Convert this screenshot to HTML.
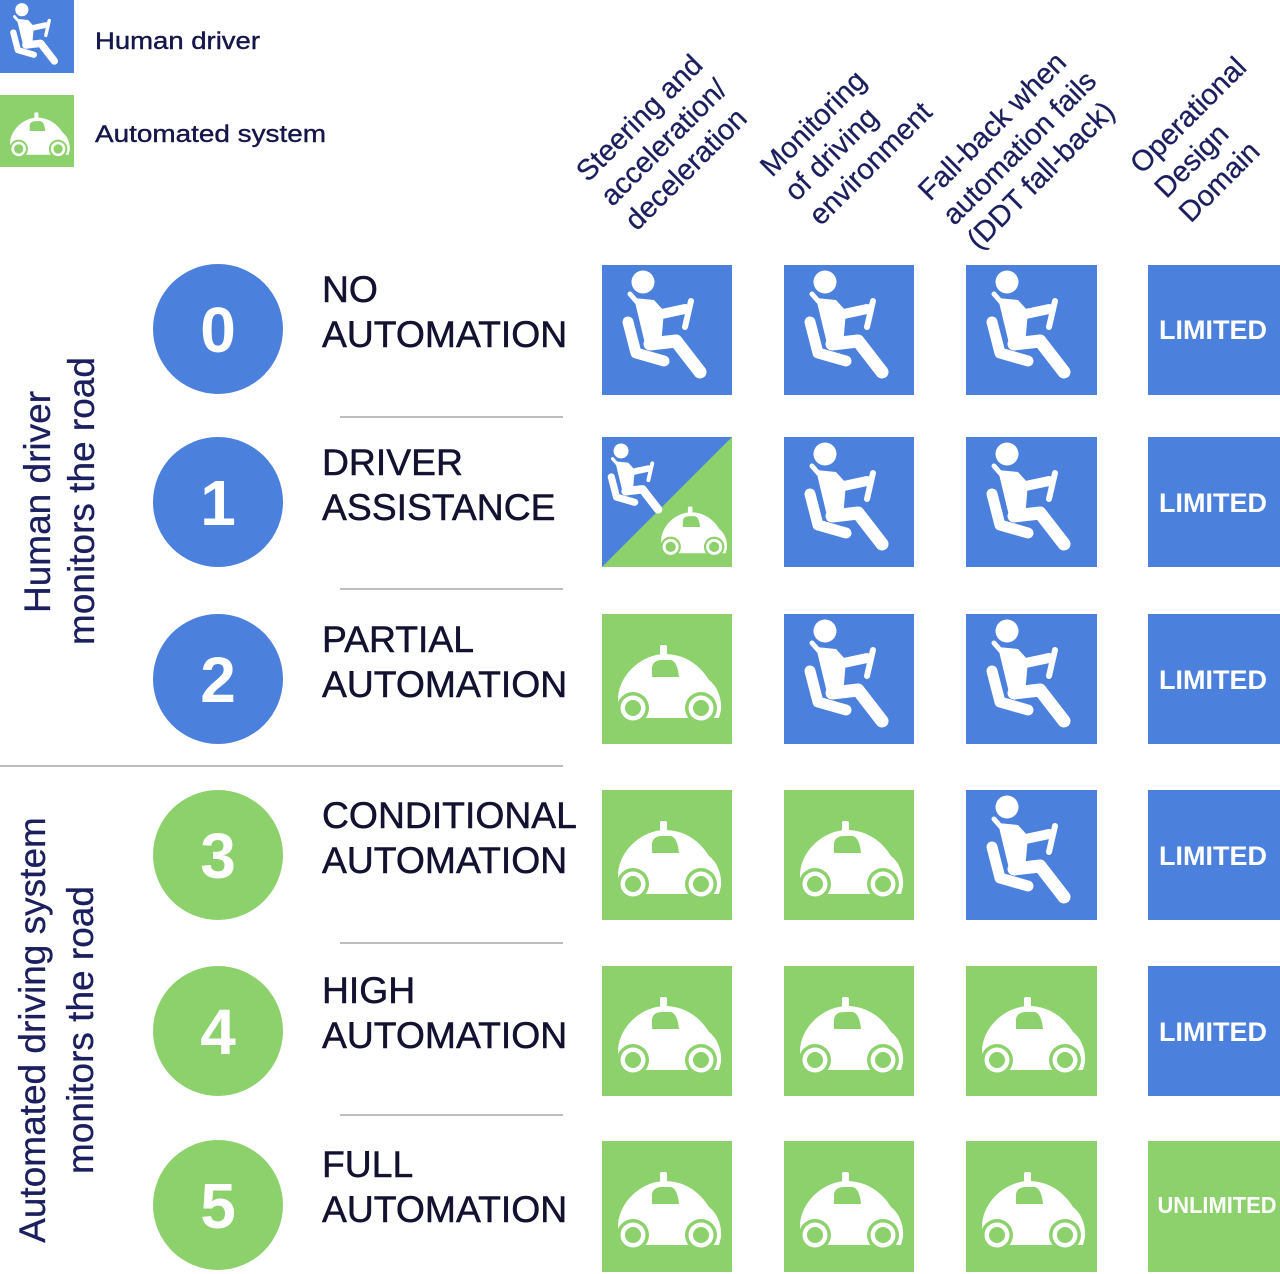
<!DOCTYPE html>
<html>
<head>
<meta charset="utf-8">
<style>
  html,body{margin:0;padding:0;background:#fff;}
  body{width:1280px;height:1274px;overflow:hidden;}
  svg{display:block;}
  text{font-family:"Liberation Sans", Arial, sans-serif;}
</style>
</head>
<body>
<svg width="1280" height="1274" viewBox="0 0 1280 1274" xmlns="http://www.w3.org/2000/svg">
  <defs>
    <g id="drv">
      <circle cx="41" cy="17" r="11.5" fill="#fff"/>
      <line x1="28" y1="29" x2="35" y2="37" stroke="#fff" stroke-width="5" stroke-linecap="round"/>
      <path d="M32,33 L52,35 L62,46 L59,81 L44,83 Z" fill="#fff"/>
      <g fill="none" stroke="#fff" stroke-linecap="round" stroke-linejoin="round">
        <path d="M55,50 L83,44" stroke-width="10"/>
        <path d="M89,36 L83,62" stroke-width="6"/>
        <path d="M26,57 L34,88 L62,96" stroke-width="11"/>
        <path d="M48,79 L74,76 L98,107" stroke-width="13"/>
      </g>
    </g>
    <g id="car">
      <rect x="58" y="31" width="7" height="10" rx="2" fill="#fff"/>
      <path d="M18,104 L16,86 C16,62 38,41 62,40 C82,40 97,50 107,66 C115,72 120,84 119,96 L117,104 Z" fill="#fff"/>
      <path d="M50,63 L50,54 C50,49 54,46 60,46 L68,46 C73,46 76,53 77,63 Z" fill="#8dd16d"/>
      <circle cx="31" cy="94" r="16" fill="#8dd16d"/>
      <circle cx="99" cy="94" r="16" fill="#8dd16d"/>
      <circle cx="31" cy="94" r="12.5" fill="#fff"/>
      <circle cx="99" cy="94" r="12.5" fill="#fff"/>
      <circle cx="31" cy="94" r="8" fill="#8dd16d"/>
      <circle cx="99" cy="94" r="8" fill="#8dd16d"/>
    </g>
  </defs>

  <!-- Legend -->
  <rect x="0" y="0" width="74" height="73" fill="#4b80dc"/>
  <use href="#drv" transform="translate(-1.5,0) scale(0.57)"/>
  <text x="95" y="49" font-size="24" fill="#15164a" stroke="#15164a" stroke-width="0.4" textLength="165" lengthAdjust="spacingAndGlyphs">Human driver</text>
  <rect x="0" y="95" width="74" height="72" fill="#8dd16d"/>
  <use href="#car" transform="translate(0.7,94.4) scale(0.58)"/>
  <text x="95" y="142" font-size="24" fill="#15164a" stroke="#15164a" stroke-width="0.4" textLength="231" lengthAdjust="spacingAndGlyphs">Automated system</text>

  <!-- Column headers -->
  <g font-size="29" fill="#1b1f5e" stroke="#1b1f5e" stroke-width="0.3">
    <text transform="translate(588,183) rotate(-45)"><tspan x="0" y="0">Steering and</tspan><tspan x="0" y="34.5">acceleration/</tspan><tspan x="0" y="69">deceleration</tspan></text>
    <text transform="translate(772,178) rotate(-45)"><tspan x="0" y="0">Monitoring</tspan><tspan x="0" y="34.5">of driving</tspan><tspan x="0" y="69">environment</tspan></text>
    <text transform="translate(930,202) rotate(-45)"><tspan x="0" y="0">Fall-back when</tspan><tspan x="0" y="34.5">automation fails</tspan><tspan x="0" y="69">(DDT fall-back)</tspan></text>
    <text transform="translate(1142,175) rotate(-45)"><tspan x="0" y="0">Operational</tspan><tspan x="0" y="34.5">Design</tspan><tspan x="0" y="69">Domain</tspan></text>
  </g>

  <!-- Side labels -->
  <g font-size="37" fill="#1b1f5e" stroke="#1b1f5e" stroke-width="0.3" text-anchor="middle">
    <text transform="translate(50,502) rotate(-90)">Human driver</text>
    <text transform="translate(94,501) rotate(-90)">monitors the road</text>
    <text transform="translate(45,1030) rotate(-90)">Automated driving system</text>
    <text transform="translate(93,1030) rotate(-90)">monitors the road</text>
  </g>

  <!-- Separators -->
  <g stroke="#bdbdbd" stroke-width="2">
    <line x1="340" y1="417" x2="563" y2="417"/>
    <line x1="340" y1="589" x2="563" y2="589"/>
    <line x1="0" y1="766" x2="563" y2="766"/>
    <line x1="340" y1="943" x2="563" y2="943"/>
    <line x1="340" y1="1115" x2="563" y2="1115"/>
  </g>

  <!-- Circles -->
  <g>
    <circle cx="218" cy="329" r="65" fill="#4b80dc"/>
    <circle cx="218" cy="502" r="65" fill="#4b80dc"/>
    <circle cx="218" cy="679" r="65" fill="#4b80dc"/>
    <circle cx="218" cy="855" r="65" fill="#8dd16d"/>
    <circle cx="218" cy="1031" r="65" fill="#8dd16d"/>
    <circle cx="218" cy="1205" r="65" fill="#8dd16d"/>
  </g>
  <g font-size="64" font-weight="bold" fill="#fff" text-anchor="middle">
    <text x="218" y="352">0</text>
    <text x="218" y="525">1</text>
    <text x="218" y="702">2</text>
    <text x="218" y="878">3</text>
    <text x="218" y="1054">4</text>
    <text x="218" y="1228">5</text>
  </g>

  <!-- Level labels -->
  <g font-size="37.3" fill="#121230" stroke="#121230" stroke-width="0.5">
    <text x="322" y="302">NO</text>
    <text x="322" y="347">AUTOMATION</text>
    <text x="322" y="475">DRIVER</text>
    <text x="322" y="520">ASSISTANCE</text>
    <text x="322" y="652">PARTIAL</text>
    <text x="322" y="697">AUTOMATION</text>
    <text x="322" y="828">CONDITIONAL</text>
    <text x="322" y="873">AUTOMATION</text>
    <text x="322" y="1003">HIGH</text>
    <text x="322" y="1048">AUTOMATION</text>
    <text x="322" y="1177">FULL</text>
    <text x="322" y="1222">AUTOMATION</text>
  </g>

  <!-- Row 0 -->
  <g transform="translate(602,265)"><rect width="130" height="130" fill="#4b80dc"/><use href="#drv"/></g>
  <g transform="translate(784,265)"><rect width="130" height="130" fill="#4b80dc"/><use href="#drv"/></g>
  <g transform="translate(966,265)"><rect width="131" height="130" fill="#4b80dc"/><use href="#drv"/></g>
  <rect x="1148" y="265" width="132" height="130" fill="#4b80dc"/>

  <!-- Row 1 -->
  <g transform="translate(602,437)">
    <rect width="130" height="130" fill="#4b80dc"/>
    <polygon points="0,130 130,0 130,130" fill="#8dd16d"/>
    <use href="#drv" transform="translate(-7.6,2.9) scale(0.65)"/>
    <use href="#car" transform="translate(48.8,49.7) scale(0.64)"/>
  </g>
  <g transform="translate(784,437)"><rect width="130" height="130" fill="#4b80dc"/><use href="#drv"/></g>
  <g transform="translate(966,437)"><rect width="131" height="130" fill="#4b80dc"/><use href="#drv"/></g>
  <rect x="1148" y="437" width="132" height="130" fill="#4b80dc"/>

  <!-- Row 2 -->
  <g transform="translate(602,614)"><rect width="130" height="130" fill="#8dd16d"/><use href="#car"/></g>
  <g transform="translate(784,614)"><rect width="130" height="130" fill="#4b80dc"/><use href="#drv"/></g>
  <g transform="translate(966,614)"><rect width="131" height="130" fill="#4b80dc"/><use href="#drv"/></g>
  <rect x="1148" y="614" width="132" height="130" fill="#4b80dc"/>

  <!-- Row 3 -->
  <g transform="translate(602,790)"><rect width="130" height="130" fill="#8dd16d"/><use href="#car"/></g>
  <g transform="translate(784,790)"><rect width="130" height="130" fill="#8dd16d"/><use href="#car"/></g>
  <g transform="translate(966,790)"><rect width="131" height="130" fill="#4b80dc"/><use href="#drv"/></g>
  <rect x="1148" y="790" width="132" height="130" fill="#4b80dc"/>

  <!-- Row 4 -->
  <g transform="translate(602,966)"><rect width="130" height="130" fill="#8dd16d"/><use href="#car"/></g>
  <g transform="translate(784,966)"><rect width="130" height="130" fill="#8dd16d"/><use href="#car"/></g>
  <g transform="translate(966,966)"><rect width="131" height="130" fill="#8dd16d"/><use href="#car"/></g>
  <rect x="1148" y="966" width="132" height="130" fill="#4b80dc"/>

  <!-- Row 5 -->
  <g transform="translate(602,1141)"><rect width="130" height="131" fill="#8dd16d"/><use href="#car"/></g>
  <g transform="translate(784,1141)"><rect width="130" height="131" fill="#8dd16d"/><use href="#car"/></g>
  <g transform="translate(966,1141)"><rect width="131" height="131" fill="#8dd16d"/><use href="#car"/></g>
  <rect x="1148" y="1141" width="132" height="131" fill="#8dd16d"/>

  <!-- ODD labels -->
  <g font-size="27" font-weight="bold" fill="#fff" text-anchor="middle">
    <text x="1213" y="339" textLength="108" lengthAdjust="spacingAndGlyphs">LIMITED</text>
    <text x="1213" y="512" textLength="108" lengthAdjust="spacingAndGlyphs">LIMITED</text>
    <text x="1213" y="689" textLength="108" lengthAdjust="spacingAndGlyphs">LIMITED</text>
    <text x="1213" y="865" textLength="108" lengthAdjust="spacingAndGlyphs">LIMITED</text>
    <text x="1213" y="1041" textLength="108" lengthAdjust="spacingAndGlyphs">LIMITED</text>
  </g>
  <text x="1217" y="1213" font-size="23" font-weight="bold" fill="#fff" text-anchor="middle" textLength="119" lengthAdjust="spacingAndGlyphs">UNLIMITED</text>
</svg>
</body>
</html>
